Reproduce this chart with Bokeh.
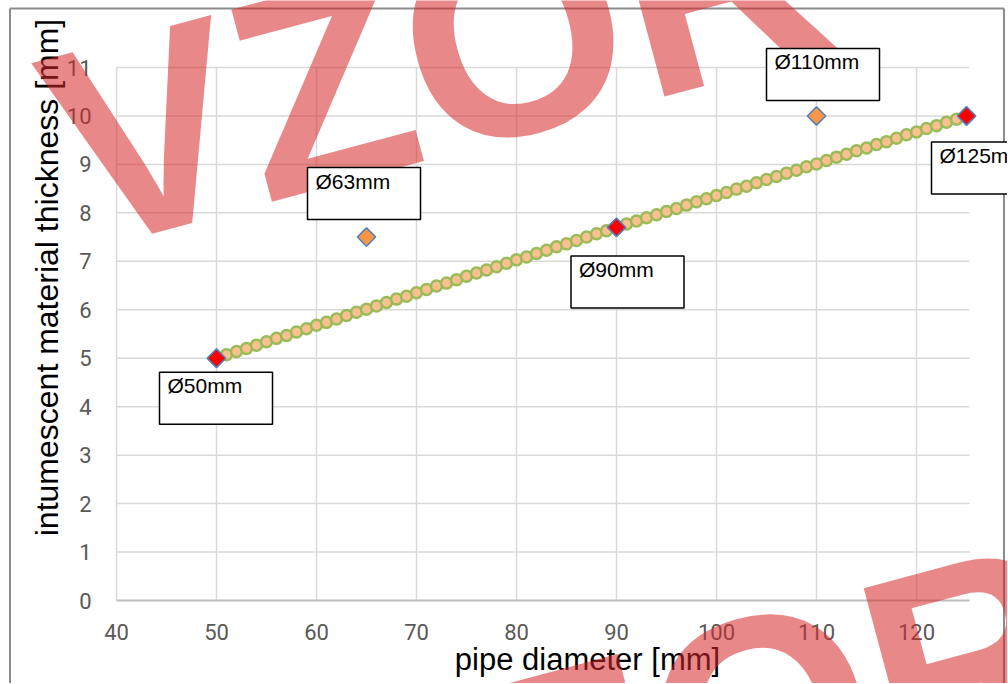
from bokeh.plotting import figure
from bokeh.models import Range1d, Label
from bokeh.core.properties import value
from bokeh.embed import file_html
from bokeh.resources import INLINE

# ---------------- data ----------------
x_ticks = [40, 50, 60, 70, 80, 90, 100, 110, 120]
y_ticks = [0, 1, 2, 3, 4, 5, 6, 7, 8, 9, 10, 11]

measured_x = [50, 65, 90, 110, 125]
measured_y = [5.0, 7.5, 7.7, 10.0, 10.0]

tested_x = [50, 90, 125]
tested_y = [5.0, 7.7, 10.0]

fit_x = list(range(50, 126))
fit_y = [5.00, 5.07, 5.14, 5.20, 5.27, 5.34, 5.41, 5.47, 5.54, 5.61,
         5.68, 5.74, 5.81, 5.88, 5.95, 6.01, 6.08, 6.15, 6.22, 6.28,
         6.35, 6.42, 6.49, 6.55, 6.62, 6.69, 6.76, 6.82, 6.89, 6.96,
         7.03, 7.09, 7.16, 7.23, 7.30, 7.36, 7.43, 7.50, 7.57, 7.63,
         7.70, 7.77, 7.83, 7.90, 7.96, 8.03, 8.09, 8.16, 8.23, 8.29,
         8.36, 8.42, 8.49, 8.55, 8.62, 8.69, 8.75, 8.82, 8.88, 8.95,
         9.01, 9.08, 9.15, 9.21, 9.28, 9.34, 9.41, 9.47, 9.54, 9.61,
         9.67, 9.74, 9.80, 9.87, 9.93, 10.00]

label_text = ["Ø50mm", "Ø63mm", "Ø90mm", "Ø110mm", "Ø125mm"]

x_title = "pipe diameter [mm]"
y_title = "intumescent material thickness [mm]"
watermark = "VZOR"

# ---------------- layout (page pixels) ----------------
ORIGIN = 1
W, H = 1007, 683
FRAME_LEFT, FRAME_BOTTOM, TOP11 = 117, 601, 68
PX_X = 10.0
PX_Y = (FRAME_BOTTOM - TOP11) / 11.0
X_MIN, X_AXIS_MAX = 40, 125.3


def dx(px):
    return px / PX_X


def dy(px):
    return px / PX_Y


def gx(px):
    return X_MIN + (px - FRAME_LEFT) / PX_X


def gy(py):
    return (FRAME_BOTTOM - py) / PX_Y


p = figure(width=W, height=H,
           x_range=Range1d(gx(ORIGIN), gx(ORIGIN + W)),
           y_range=Range1d(gy(ORIGIN + H), gy(ORIGIN)),
           x_axis_location=None, y_axis_location=None,
           output_backend="svg", toolbar_location=None,
           min_border_left=0, min_border_right=0, min_border_top=0, min_border_bottom=0)
p.outline_line_color = None
p.xgrid.visible = False
p.ygrid.visible = False
p.background_fill_color = "white"
p.border_fill_color = "white"

# chart border (left, top, right)
p.segment(x0=[gx(10.5), gx(10.5), gx(1004.5)], y0=[gy(700), gy(9), gy(9)],
          x1=[gx(10.5), gx(1004.5), gx(1004.5)], y1=[gy(9), gy(9), gy(700)],
          line_color="#8c8c8c", line_width=2, level="underlay")

# grid
grid_c = "#d9d9d9"
p.segment(x0=x_ticks, y0=[0] * len(x_ticks), x1=x_ticks, y1=[y_ticks[-1]] * len(x_ticks),
          line_color=grid_c, line_width=1.5, level="underlay")
p.segment(x0=[X_MIN] * (len(y_ticks) - 1), y0=y_ticks[1:],
          x1=[X_AXIS_MAX] * (len(y_ticks) - 1), y1=y_ticks[1:],
          line_color=grid_c, line_width=1.5, level="underlay")
p.segment(x0=[X_MIN], y0=[0], x1=[X_AXIS_MAX], y1=[0], line_color="#bfbfbf", line_width=2,
          level="underlay")

# tick labels
tick_font = value("Roboto")
p.text(x_ticks, [0] * len(x_ticks), text=[str(t) for t in x_ticks], y_offset=31,
       text_align="center", text_baseline="middle", text_font=tick_font,
       text_font_size="22px", text_color="#595959", level="underlay")
p.text([X_MIN] * len(y_ticks), y_ticks, text=[str(t) for t in y_ticks], x_offset=-25,
       text_align="right", text_baseline="middle", text_font=tick_font,
       text_font_size="22px", text_color="#595959", level="underlay")

# axis titles
p.text([gx(588)], [gy(642)], text=[x_title], text_align="center", text_baseline="top",
       text_font=value("Liberation Sans"), text_font_size="31px", text_color="black",
       level="underlay")
p.text([gx(29)], [gy(278)], text=[y_title], text_align="center", text_baseline="top",
       angle=90, angle_units="deg",
       text_font=value("Liberation Sans"), text_font_size="32px", text_color="black",
       level="underlay")

# series
edge = "#4F81BD"
p.scatter(measured_x, measured_y, marker="square", angle=45, angle_units="deg", size=13,
          fill_color="#F79646", line_color=edge, line_width=1.5)
p.scatter(fit_x, fit_y, marker="circle", size=11, fill_color="#FAC090", line_color="#9BBB59",
          line_width=2.5)
p.scatter(tested_x, tested_y, marker="square", angle=45, angle_units="deg", size=13,
          fill_color="#FF0000", line_color=edge, line_width=1.5)

# watermark
for (wx, wy) in ((55, 158), (55 + 250, 158 + 681)):
    p.add_layout(Label(x=gx(wx), y=gy(wy), text=watermark, text_align="left",
                       text_baseline="alphabetic", angle=15, angle_units="deg",
                       text_font="Liberation Sans", text_font_style="bold",
                       text_font_size="285px", text_color="#D62728", text_alpha=0.55))

# data label boxes (offset of box centre from point, screen px; +y down)
box_off = [(-0.5, 40), (-2.5, -43.5), (11, 54.5), (6.5, -41.5), (21.5, 52)]
BW, BH = 113, 52
bx = [x + dx(o[0]) for x, o in zip(measured_x, box_off)]
by = [y - dy(o[1]) for y, o in zip(measured_y, box_off)]
p.rect(bx, by, width=BW, height=BH, width_units="screen", height_units="screen",
       fill_color="white", line_color="black", line_width=1.5, level="overlay")
tx = [x + dx(o[0] - BW / 2 + 8) for x, o in zip(measured_x, box_off)]
ty = [y - dy(o[1] - BH / 2 + 2) for y, o in zip(measured_y, box_off)]
p.text(tx, ty, text=label_text, text_font=value("Liberation Sans"), text_font_size="21px",
       text_align="left", text_baseline="top", text_color="black", level="overlay")

open("out.html", "w").write(file_html(p, INLINE))
